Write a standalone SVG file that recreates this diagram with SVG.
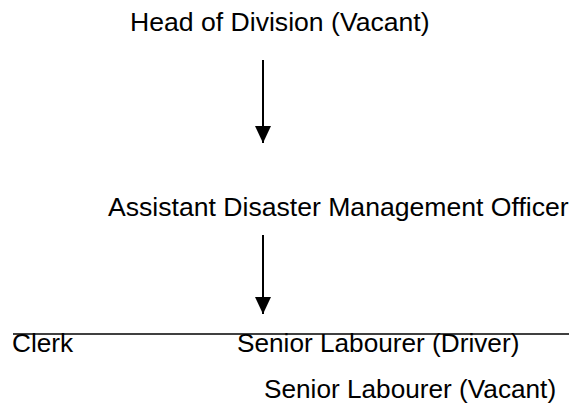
<svg xmlns="http://www.w3.org/2000/svg" width="569" height="405" viewBox="0 0 569 405">
<defs>
<style>
text{font-family:"Liberation Sans",Arial,sans-serif;font-size:26.2px;fill:#000}
.big{font-size:26.6px}
.c{stroke:#000;stroke-width:2;fill:none}
.h{stroke:#000;stroke-width:1.5;fill:none}
</style>
<marker id="ah" markerUnits="userSpaceOnUse" markerWidth="17" markerHeight="16" viewBox="0 0 17 16" refX="17" refY="8" orient="auto">
<path d="M0,0 L17,8 L0,16 Z" fill="#000"/>
</marker>
</defs>
<rect width="569" height="405" fill="#fff"/>
<g id="connectors">
<line class="c" x1="263" y1="60" x2="263" y2="143" marker-end="url(#ah)"/>
<line class="c" x1="263" y1="235" x2="263" y2="314" marker-end="url(#ah)"/>
<line class="h" x1="13" y1="334" x2="569" y2="334"/>
</g>
<g id="head"><text class="big" x="130" y="31">Head of Division (Vacant)</text></g>
<g id="adm"><text class="big" x="108" y="216">Assistant Disaster Management Officer</text></g>
<g id="clerk"><text x="12" y="352">Clerk</text></g>
<g id="driver"><text x="237" y="352">Senior Labourer (Driver)</text></g>
<g id="vacant"><text x="264" y="398">Senior Labourer (Vacant)</text></g>
</svg>
